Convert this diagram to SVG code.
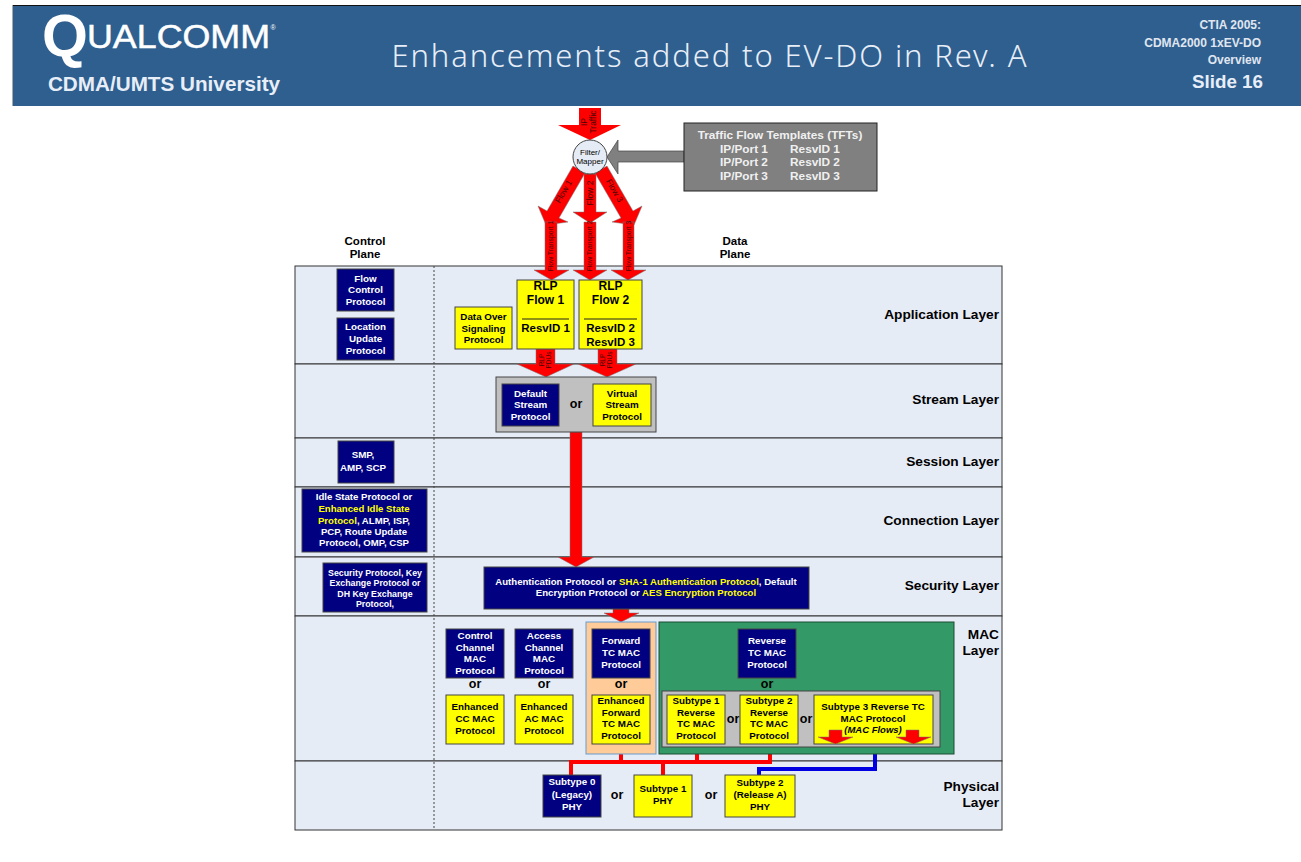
<svg xmlns="http://www.w3.org/2000/svg" width="1301" height="862" viewBox="0 0 1301 862">
<style>
text{font-family:"Liberation Sans",Arial,sans-serif;font-weight:700;text-anchor:middle}
.t{font-size:9.8px;fill:#000}
.w{font-size:9.8px;fill:#fff}
.n{font-size:9.6px;fill:#fff}
.s{font-size:8.8px;fill:#fff}
.y{fill:#ffff00}
.or{font-size:12.5px;fill:#000}
.lay{font-size:13.7px;text-anchor:end;fill:#000}
.pl{font-size:11.500px;fill:#000}
.rl{font-size:12px;fill:#000}
.rv{font-size:11.500px;fill:#000}
.band{fill:#e6ecf6;stroke:#333;stroke-width:1}
.nv{fill:#000080;stroke:#444;stroke-width:1}
.yl{fill:#ffff00;stroke:#444;stroke-width:1}
.gr{fill:#c0c0c0;stroke:#444;stroke-width:1}
.ar{fill:#ff0000;stroke:#777;stroke-width:.5}
.lb{font-size:8.500px;font-weight:400;fill:#400}
.tf{font-size:11.800px;fill:#f0f0f0}
</style>
<rect width="1301" height="862" fill="#fff"/>
<g id="header">
<rect x="12" y="5" width="1289" height="101" fill="#2e5f8f"/>
<rect x="12" y="5" width="1289" height="1" fill="#111"/>
<rect x="12" y="5" width="1" height="101" fill="#aaa"/>
<text x="42" y="56" fill="#fff" style="font-size:59px;font-weight:700;text-anchor:start">Q</text>
<text x="87" y="48" fill="#fff" stroke="#fff" stroke-width=".5" textLength="183" lengthAdjust="spacingAndGlyphs" style="font-size:33px;font-weight:400;text-anchor:start">UALCOMM</text>
<text x="273" y="30" fill="#fff" style="font-size:7px;font-weight:400">®</text>
<text x="164" y="91" fill="#e8eef8" style="font-size:20.700px">CDMA/UMTS University</text>
<text x="709" y="67" fill="#e8eef8" textLength="635" style="font-family:'Noto Sans',sans-serif;font-size:31px;font-weight:300">Enhancements added to EV-DO in Rev. A</text>
<text x="1261" y="29" fill="#e0e6f0" style="font-size:12px;text-anchor:end">CTIA 2005:</text>
<text x="1261" y="47" fill="#e0e6f0" style="font-size:12px;text-anchor:end">CDMA2000 1xEV-DO</text>
<text x="1261" y="64" fill="#e0e6f0" style="font-size:12px;text-anchor:end">Overview</text>
<text x="1263" y="88" fill="#e8eef8" style="font-size:18.800px;text-anchor:end">Slide 16</text>
</g>
<g id="layers">
<rect class="band" x="295" y="266" width="707" height="98"/>
<rect class="band" x="295" y="364" width="707" height="74"/>
<rect class="band" x="295" y="438" width="707" height="49"/>
<rect class="band" x="295" y="487" width="707" height="70"/>
<rect class="band" x="295" y="557" width="707" height="59"/>
<rect class="band" x="295" y="616" width="707" height="145"/>
<rect class="band" x="295" y="761" width="707" height="69"/>
<line x1="434" y1="266" x2="434" y2="830" stroke="#444" stroke-dasharray="2 2"/>
<text class="pl" x="365" y="245">Control</text><text class="pl" x="365" y="258">Plane</text>
<text class="pl" x="735" y="245">Data</text><text class="pl" x="735" y="258">Plane</text>
<text class="lay" x="999" y="319">Application Layer</text>
<text class="lay" x="999" y="404">Stream Layer</text>
<text class="lay" x="999" y="466">Session Layer</text>
<text class="lay" x="999" y="525">Connection Layer</text>
<text class="lay" x="999" y="590">Security Layer</text>
<text class="lay" x="999" y="639">MAC</text><text class="lay" x="999" y="655">Layer</text>
<text class="lay" x="999" y="791">Physical</text><text class="lay" x="999" y="807">Layer</text>
</g>
<g id="connectors">
<path fill="#ff0000" d="M579 108H601V125H621L590 140L558 125H579Z"/>
<path fill="#808080" stroke="#444" stroke-width=".7" d="M684 151H618V140L607 157L618 174V162H684Z"/>
<path class="ar" d="M573 166L585 173L559 218L568 222L546 225L538 206L547 211Z"/>
<path class="ar" d="M584 174H596V212H607L590 223L573 212H584Z"/>
<path class="ar" d="M607 166L595 173L621 218L612 222L634 225L642 206L633 211Z"/>
<path class="ar" d="M545 222H557V270H569L551.500 280L534 270H545Z"/>
<path class="ar" d="M584 222H596V270H607L590 280L573 270H584Z"/>
<path class="ar" d="M623 222H634V270H646L628 280L611 270H623Z"/>
<path class="ar" d="M536 349H555V364H574L546 377L517 364H536Z"/>
<path class="ar" d="M598 349H617V364H636L607 377L578 364H598Z"/>
<path class="ar" d="M570 432H582V557H594L576 567L558 557H570Z"/>
<path class="ar" d="M613 609H629V613H639L621 622L604 613H613Z"/>
<g fill="none" stroke="#ff0000" stroke-width="4">
<path d="M571 775V762H770V744"/>
<path d="M621 754V762"/>
<path d="M697 744V762"/>
<path d="M663 762V775"/>
</g>
<path fill="none" stroke="#0000e0" stroke-width="4" d="M875 744V769H759V775"/>
<g>
<text class="lb" transform="translate(587 122) rotate(-90)">IP</text>
<text class="lb" transform="translate(596 122) rotate(-90)">Traffic</text>
<text class="lb" transform="translate(566 193) rotate(-60)">Flow 1</text>
<text class="lb" transform="translate(593 193) rotate(-90)">Flow 2</text>
<text class="lb" transform="translate(612 192) rotate(60)">Flow 3</text>
<text class="lb" style="font-size:6.800px" transform="translate(553 246) rotate(-90)">Flow Transport 1</text>
<text class="lb" style="font-size:6.800px" transform="translate(592 246) rotate(-90)">Flow Transport 2</text>
<text class="lb" style="font-size:6.800px" transform="translate(631 246) rotate(-90)">Flow Transport 3</text>
<text class="lb" style="font-size:6.500px" transform="translate(544 360) rotate(-90)">RLP</text>
<text class="lb" style="font-size:6.500px" transform="translate(551 360) rotate(-90)">PDUs</text>
<text class="lb" style="font-size:6.500px" transform="translate(605 360) rotate(-90)">RLP</text>
<text class="lb" style="font-size:6.500px" transform="translate(612 360) rotate(-90)">PDUs</text>
</g>
</g>
<g id="filter-mapper">
<circle cx="590" cy="157" r="17" fill="#e6ecf6" stroke="#444"/>
<text style="font-size:8px;font-weight:400" x="590" y="155">Filter/</text>
<text style="font-size:8px;font-weight:400" x="590" y="164">Mapper</text>
</g>
<g id="tfts">
<rect x="684" y="123" width="193" height="68" fill="#808080" stroke="#222"/>
<text class="tf" x="780" y="139">Traffic Flow Templates (TFTs)</text>
<text class="tf" x="744" y="153">IP/Port 1</text><text class="tf" x="815" y="153">ResvID 1</text>
<text class="tf" x="744" y="166">IP/Port 2</text><text class="tf" x="815" y="166">ResvID 2</text>
<text class="tf" x="744" y="180">IP/Port 3</text><text class="tf" x="815" y="180">ResvID 3</text>
</g>
<g id="flow-control"><rect class="nv" x="337" y="269" width="57" height="42"/><text class="w" x="365.500" y="282">Flow</text><text class="w" x="365.500" y="293">Control</text><text class="w" x="365.500" y="305">Protocol</text></g>
<g id="location-update"><rect class="nv" x="337" y="318" width="57" height="42"/><text class="w" x="365.500" y="330">Location</text><text class="w" x="365.500" y="342">Update</text><text class="w" x="365.500" y="354">Protocol</text></g>
<g id="data-over"><rect class="yl" x="455" y="307" width="57" height="42"/><text class="t" x="483.500" y="320">Data Over</text><text class="t" x="483.500" y="332">Signaling</text><text class="t" x="483.500" y="343">Protocol</text></g>
<g id="rlp1"><rect class="yl" x="517" y="280" width="57" height="69"/><text class="rl" x="545.500" y="290">RLP</text><text class="rl" x="545.500" y="304">Flow 1</text><line x1="522" x2="569" y1="319" y2="319" stroke="#222"/><text class="rv" x="545.500" y="332">ResvID 1</text></g>
<g id="rlp2"><rect class="yl" x="579" y="280" width="63" height="69"/><text class="rl" x="610.500" y="290">RLP</text><text class="rl" x="610.500" y="304">Flow 2</text><line x1="584" x2="637" y1="319" y2="319" stroke="#222"/><text class="rv" x="610.500" y="332">ResvID 2</text><text class="rv" x="610.500" y="346">ResvID 3</text></g>
<g id="stream"><rect class="gr" x="496" y="377" width="160" height="55"/>
<rect class="nv" x="502" y="384" width="57" height="42"/><text class="w" x="530.500" y="397">Default</text><text class="w" x="530.500" y="408">Stream</text><text class="w" x="530.500" y="420">Protocol</text>
<text class="or" x="576" y="408">or</text>
<rect class="yl" x="593" y="384" width="58" height="42"/><text class="t" x="622" y="397">Virtual</text><text class="t" x="622" y="408">Stream</text><text class="t" x="622" y="420">Protocol</text></g>
<g id="smp"><rect class="nv" x="338" y="441" width="56" height="42"/><text class="w" x="363" y="458">SMP,</text><text class="w" x="363" y="471">AMP, SCP</text></g>
<g id="idle"><rect class="nv" x="302" y="489" width="125" height="63"/>
<text class="n" x="364" y="500">Idle State Protocol or</text>
<text class="n y" x="364" y="512">Enhanced Idle State</text>
<text class="n" x="364" y="524"><tspan class="y">Protocol</tspan>, ALMP, ISP,</text>
<text class="n" x="364" y="535">PCP, Route Update</text>
<text class="n" x="364" y="546">Protocol, OMP, CSP</text></g>
<g id="security"><rect class="nv" x="323" y="563" width="104" height="49"/>
<text class="s" x="375" y="575.500">Security Protocol, Key</text>
<text class="s" x="375" y="585.500">Exchange Protocol or</text>
<text class="s" x="375" y="596.500">DH Key Exchange</text>
<text class="s" x="375" y="606.500">Protocol,</text></g>
<g id="auth"><rect class="nv" x="484" y="567" width="325" height="42"/>
<text class="n" x="646" y="585">Authentication Protocol or <tspan class="y">SHA-1 Authentication Protocol</tspan>, Default</text>
<text class="n" x="646" y="596">Encryption Protocol or <tspan class="y">AES Encryption Protocol</tspan></text></g>
<g id="control-mac"><rect class="nv" x="446" y="629" width="58" height="49"/><text class="w" x="475" y="639">Control</text><text class="w" x="475" y="651">Channel</text><text class="w" x="475" y="662">MAC</text><text class="w" x="475" y="674">Protocol</text></g>
<text class="or" x="475" y="688">or</text>
<g id="enhanced-cc"><rect class="yl" x="446" y="695" width="58" height="49"/><text class="t" x="475" y="710">Enhanced</text><text class="t" x="475" y="722">CC MAC</text><text class="t" x="475" y="734">Protocol</text></g>
<g id="access-mac"><rect class="nv" x="515" y="629" width="58" height="49"/><text class="w" x="544" y="639">Access</text><text class="w" x="544" y="651">Channel</text><text class="w" x="544" y="662">MAC</text><text class="w" x="544" y="674">Protocol</text></g>
<text class="or" x="544" y="688">or</text>
<g id="enhanced-ac"><rect class="yl" x="515" y="695" width="58" height="49"/><text class="t" x="544" y="710">Enhanced</text><text class="t" x="544" y="722">AC MAC</text><text class="t" x="544" y="734">Protocol</text></g>
<g id="forward"><rect x="586" y="622" width="70" height="132" fill="#ffcc99" stroke="#6699cc"/>
<rect class="nv" x="592" y="629" width="58" height="49"/><text class="w" x="621" y="644">Forward</text><text class="w" x="621" y="656">TC MAC</text><text class="w" x="621" y="668">Protocol</text>
<text class="or" x="621" y="688">or</text>
<rect class="yl" x="592" y="695" width="58" height="49"/><text class="t" x="621" y="704">Enhanced</text><text class="t" x="621" y="716">Forward</text><text class="t" x="621" y="727">TC MAC</text><text class="t" x="621" y="739">Protocol</text></g>
<g id="reverse"><rect x="659" y="622" width="295" height="132" fill="#339966" stroke="#1a4d33"/>
<rect class="nv" x="738" y="629" width="58" height="49"/><text class="w" x="767" y="644">Reverse</text><text class="w" x="767" y="656">TC MAC</text><text class="w" x="767" y="668">Protocol</text>
<text class="or" x="767" y="688">or</text>
<rect class="gr" x="662" y="691" width="278" height="56"/>
<rect class="yl" x="667" y="695" width="58" height="49"/><text class="t" x="696" y="704">Subtype 1</text><text class="t" x="696" y="716">Reverse</text><text class="t" x="696" y="727">TC MAC</text><text class="t" x="696" y="739">Protocol</text>
<text class="or" x="733" y="723">or</text>
<rect class="yl" x="740" y="695" width="58" height="49"/><text class="t" x="769" y="704">Subtype 2</text><text class="t" x="769" y="716">Reverse</text><text class="t" x="769" y="727">TC MAC</text><text class="t" x="769" y="739">Protocol</text>
<text class="or" x="806" y="723">or</text>
<rect class="yl" x="814" y="695" width="119" height="49"/><text class="t" x="873" y="710">Subtype 3 Reverse TC</text><text class="t" x="873" y="722">MAC Protocol</text>
<path class="ar" d="M829 730H842V737H853L835.500 744L818 737H829Z"/><path class="ar" d="M906 730H919V737H931L913.500 744L896 737H906Z"/>
<text class="t" x="873" y="733" style="font-style:italic;font-size:9.500px">(MAC Flows)</text></g>
<g id="phy0"><rect class="nv" x="543" y="775" width="58" height="42"/><text class="w" x="572" y="785">Subtype 0</text><text class="w" x="572" y="798">(Legacy)</text><text class="w" x="572" y="810">PHY</text></g>
<text class="or" x="617" y="799">or</text>
<g id="phy1"><rect class="yl" x="634" y="775" width="58" height="42"/><text class="t" x="663" y="792">Subtype 1</text><text class="t" x="663" y="804">PHY</text></g>
<text class="or" x="711" y="799">or</text>
<g id="phy2"><rect class="yl" x="725" y="775" width="70" height="42"/><text class="t" x="760" y="786">Subtype 2</text><text class="t" x="760" y="798">(Release A)</text><text class="t" x="760" y="810">PHY</text></g>
</svg>
